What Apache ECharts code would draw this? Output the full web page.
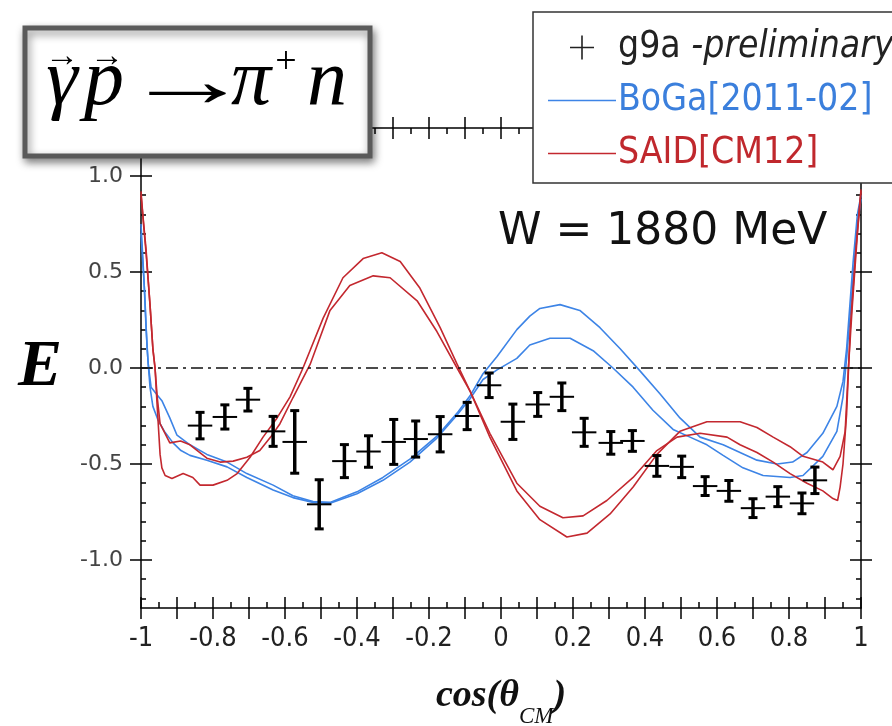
<!DOCTYPE html>
<html>
<head>
<meta charset="utf-8">
<script src="https://cdn.jsdelivr.net/npm/echarts@6/dist/echarts.min.js"></script>
<style>
  html, body { margin: 0; padding: 0; background: #fff; }
  #main { width: 892px; height: 726px; }
</style>
</head>
<body>
<div id="main"></div>
<script>
// g9a preliminary points: bin centre, E, stat. error
const g9aCos = [-0.836, -0.767, -0.703, -0.633, -0.573, -0.505, -0.435, -0.368, -0.298, -0.237,
  -0.169, -0.094, -0.033, 0.033, 0.102, 0.169, 0.231, 0.305, 0.365, 0.433, 0.502, 0.567, 0.633,
  0.700, 0.769, 0.836, 0.872]
const g9aE = [-0.30, -0.255, -0.165, -0.33, -0.385, -0.71, -0.485, -0.435, -0.385, -0.37,
  -0.345, -0.25, -0.09, -0.28, -0.19, -0.15, -0.335, -0.39, -0.38, -0.51, -0.515, -0.615, -0.64,
  -0.73, -0.67, -0.705, -0.585]
const g9aErr = [0.069, 0.063, 0.059, 0.078, 0.163, 0.128, 0.086, 0.082, 0.117, 0.094,
  0.092, 0.071, 0.064, 0.092, 0.062, 0.072, 0.073, 0.059, 0.054, 0.054, 0.056, 0.049, 0.054,
  0.049, 0.052, 0.054, 0.069]
const BIN_HALF = 0.034

// BoGa[2011-02] curves
const boga1 = [[-1.0, 0.75], [-0.992, 0.47], [-0.986, 0.21], [-0.98, 0.02], [-0.972, -0.10],
  [-0.955, -0.14], [-0.942, -0.17], [-0.92, -0.26], [-0.9, -0.35], [-0.864, -0.40], [-0.817, -0.45],
  [-0.761, -0.49], [-0.706, -0.55], [-0.633, -0.61], [-0.578, -0.665], [-0.522, -0.695],
  [-0.475, -0.70], [-0.40, -0.645], [-0.328, -0.57], [-0.253, -0.475], [-0.178, -0.355],
  [-0.122, -0.235], [-0.086, -0.145], [-0.05, -0.03], [-0.011, 0.06], [0.044, 0.2], [0.08, 0.27],
  [0.108, 0.31], [0.164, 0.33], [0.219, 0.30], [0.275, 0.21], [0.331, 0.10], [0.386, -0.015],
  [0.442, -0.135], [0.497, -0.26], [0.553, -0.36], [0.617, -0.40], [0.711, -0.48], [0.767, -0.50],
  [0.81, -0.49], [0.85, -0.44], [0.894, -0.34], [0.933, -0.2], [0.95, -0.07], [0.96, 0.1],
  [0.978, 0.55], [0.99, 0.8], [1.0, 0.9]]
const boga2 = [[-1.0, 0.7], [-0.99, 0.4], [-0.983, 0.1], [-0.975, -0.1], [-0.967, -0.2],
  [-0.953, -0.27], [-0.935, -0.33], [-0.911, -0.39], [-0.889, -0.43], [-0.864, -0.455],
  [-0.817, -0.48], [-0.761, -0.515], [-0.706, -0.57], [-0.633, -0.635], [-0.578, -0.675],
  [-0.522, -0.70], [-0.475, -0.705], [-0.40, -0.655], [-0.328, -0.585], [-0.253, -0.49],
  [-0.178, -0.365], [-0.122, -0.245], [-0.086, -0.16], [-0.05, -0.06], [-0.011, -0.01],
  [0.044, 0.05], [0.08, 0.12], [0.136, 0.155], [0.192, 0.155], [0.256, 0.09], [0.311, 0.0],
  [0.367, -0.10], [0.422, -0.22], [0.478, -0.32], [0.525, -0.36], [0.572, -0.40], [0.617, -0.455],
  [0.672, -0.52], [0.728, -0.56], [0.803, -0.57], [0.839, -0.56], [0.894, -0.46], [0.933, -0.33],
  [0.95, -0.15], [0.96, 0.05], [0.975, 0.4], [0.99, 0.75], [1.0, 0.88]]

// SAID[CM12] curves
const said1 = [[-1.0, 0.92], [-0.993, 0.75], [-0.986, 0.6], [-0.975, 0.33], [-0.967, 0.10],
  [-0.961, 0.0], [-0.955, -0.15], [-0.947, -0.29], [-0.92, -0.39], [-0.89, -0.38], [-0.864, -0.40],
  [-0.817, -0.47], [-0.78, -0.49], [-0.744, -0.485], [-0.706, -0.465], [-0.67, -0.43], [-0.64, -0.36],
  [-0.614, -0.29], [-0.578, -0.155], [-0.53, 0.02], [-0.475, 0.30], [-0.42, 0.43], [-0.355, 0.48],
  [-0.308, 0.47], [-0.233, 0.35], [-0.178, 0.19], [-0.122, 0.0], [-0.086, -0.12], [-0.031, -0.34],
  [0.044, -0.60], [0.108, -0.72], [0.172, -0.78], [0.228, -0.77], [0.294, -0.69], [0.367, -0.57],
  [0.433, -0.43], [0.489, -0.36], [0.553, -0.34], [0.628, -0.36], [0.664, -0.40], [0.711, -0.44],
  [0.756, -0.49], [0.803, -0.55], [0.85, -0.60], [0.894, -0.64], [0.922, -0.68], [0.935, -0.69],
  [0.942, -0.62], [0.95, -0.50], [0.96, -0.24], [0.97, 0.2], [0.985, 0.6], [1.0, 0.93]]
const said2 = [[-1.0, 0.9], [-0.986, 0.62], [-0.975, 0.33], [-0.967, 0.10], [-0.961, 0.0],
  [-0.955, -0.2], [-0.947, -0.45], [-0.942, -0.52], [-0.933, -0.56], [-0.914, -0.575],
  [-0.883, -0.55], [-0.856, -0.57], [-0.836, -0.61], [-0.8, -0.61], [-0.761, -0.585],
  [-0.733, -0.55], [-0.697, -0.465], [-0.661, -0.36], [-0.622, -0.26], [-0.586, -0.15],
  [-0.55, 0.0], [-0.494, 0.26], [-0.439, 0.47], [-0.383, 0.57], [-0.331, 0.60], [-0.28, 0.555],
  [-0.225, 0.415], [-0.169, 0.21], [-0.122, 0.02], [-0.086, -0.12], [-0.031, -0.36], [0.044, -0.64],
  [0.108, -0.79], [0.183, -0.88], [0.239, -0.86], [0.303, -0.76], [0.367, -0.62], [0.433, -0.45],
  [0.497, -0.33], [0.572, -0.28], [0.664, -0.28], [0.711, -0.31], [0.756, -0.36], [0.803, -0.41],
  [0.839, -0.46], [0.894, -0.49], [0.922, -0.53], [0.942, -0.46], [0.956, -0.33], [0.965, 0.0],
  [0.975, 0.3], [0.99, 0.7], [1.0, 0.92]]

// axes
const xLabelValues = [-1, -0.8, -0.6, -0.4, -0.2, 0, 0.2, 0.4, 0.6, 0.8, 1]
const yMajorValues = [-1, -0.5, 0, 0.5, 1]
const yMinorValues = [-1.2, -1.1, -0.9, -0.8, -0.7, -0.6, -0.4, -0.3, -0.2, -0.1,
  0.1, 0.2, 0.3, 0.4, 0.6, 0.7, 0.8, 0.9, 1.1, 1.2]

const BLUE = '#3d84e6'
const RED = '#c3282f'
const TICK = { color: '#000', width: 1.5 }
const LABEL_FONT = '"DejaVu Sans Condensed", "DejaVu Sans", sans-serif'
const LINE_ICON = 'path://M0,0h68v1.6h-68z'

function renderPoint(params, api) {
  const x = api.value(0)
  const y = api.value(1)
  const e = api.value(2)
  const c = api.coord([x, y])
  const hi = api.coord([x, y + e])
  const lo = api.coord([x, y - e])
  const l = api.coord([x - BIN_HALF, y])
  const r = api.coord([x + BIN_HALF, y])
  const s = { stroke: '#000', lineWidth: 2 }
  return {
    type: 'group',
    children: [
      { type: 'line', shape: { x1: l[0], y1: c[1], x2: r[0], y2: c[1] }, style: s },
      { type: 'line', shape: { x1: c[0], y1: hi[1], x2: c[0], y2: lo[1] }, style: { stroke: '#000', lineWidth: 3.5 } },
      { type: 'line', shape: { x1: c[0] - 4.5, y1: hi[1], x2: c[0] + 4.5, y2: hi[1] }, style: { stroke: '#000', lineWidth: 3 } },
      { type: 'line', shape: { x1: c[0] - 4.5, y1: lo[1], x2: c[0] + 4.5, y2: lo[1] }, style: { stroke: '#000', lineWidth: 3 } },
    ],
  }
}

function xAxisFor(position, inside, main) {
  return {
    type: 'value',
    position,
    min: -1,
    max: 1,
    interval: 0.1,
    splitLine: { show: false },
    axisLine: { show: inside, onZero: false, lineStyle: { color: '#000', width: 1.5 } },
    axisTick: { inside, length: 11, lineStyle: TICK },
    minorTick: { show: inside, splitNumber: 2, length: 6, lineStyle: TICK },
    axisLabel: main
      ? {
          customValues: xLabelValues,
          margin: 17,
          color: '#222',
          fontFamily: LABEL_FONT,
          fontSize: 27,
          formatter: (v) => String(v),
        }
      : { show: false },
  }
}

function yAxisFor(position, kind) {
  const ax = {
    type: 'value',
    position,
    min: -1.25,
    max: 1.25,
    splitLine: { show: false },
    axisLine: { show: kind === 'in', onZero: false, lineStyle: { color: '#000', width: 1.5 } },
    axisTick: {
      customValues: kind === 'minor' ? yMinorValues : yMajorValues,
      inside: kind !== 'out',
      length: kind === 'minor' ? 5 : 11,
      lineStyle: TICK,
    },
    axisLabel: { show: false },
  }
  if (position === 'left' && kind === 'in') {
    ax.axisLabel = {
      customValues: yMajorValues,
      margin: 18,
      color: '#444',
      fontFamily: '"DejaVu Sans", sans-serif',
      fontSize: 22,
      formatter: (v) => v.toFixed(1),
    }
    ax.name = 'E'
    ax.nameLocation = 'middle'
    ax.nameRotate = 0
    ax.nameGap = 79
    ax.nameTextStyle = {
      fontFamily: '"Liberation Serif", serif',
      fontStyle: 'italic',
      fontWeight: 'bold',
      fontSize: 66,
      color: '#000',
    }
  }
  return ax
}

function curve(name, data, color) {
  return {
    name,
    type: 'line',
    data,
    symbol: 'none',
    smooth: false,
    color,
    lineStyle: { color, width: 1.6 },
    z: 3,
  }
}

function titleGlyph(text, x, y, font, extra) {
  return Object.assign({
    type: 'text',
    z: 101,
    x,
    y,
    style: { text, font, fill: '#000', align: 'center', verticalAlign: 'middle' },
  }, extra || {})
}

function main() {
  const chart = echarts.init(document.getElementById('main'))
  const pointData = g9aCos.map((c, i) => [c, g9aE[i], g9aErr[i]])

  const xMain = xAxisFor('bottom', true, true)
  xMain.name = '{a|cos(θ}{s|CM}{a|)}'
  xMain.nameLocation = 'middle'
  xMain.nameGap = 57
  xMain.nameTextStyle = {
    rich: {
      a: { fontFamily: '"Liberation Serif", serif', fontStyle: 'italic', fontWeight: 'bold', fontSize: 38, color: '#111' },
      s: { fontFamily: '"Liberation Serif", serif', fontStyle: 'italic', fontSize: 23, color: '#111', padding: [40, 0, 0, 0] },
    },
  }

  const serif = '"Liberation Serif", serif'

  chart.setOption({
    animation: false,
    backgroundColor: '#fff',
    grid: { left: 141, right: 31, top: 128, bottom: 118, outerBoundsMode: 'none', containLabel: false },
    xAxis: [
      xMain,
      xAxisFor('bottom', false, false),
      xAxisFor('top', true, false),
      xAxisFor('top', false, false),
    ],
    yAxis: [
      yAxisFor('left', 'in'),
      yAxisFor('left', 'out'),
      yAxisFor('left', 'minor'),
      yAxisFor('right', 'in'),
      yAxisFor('right', 'out'),
      yAxisFor('right', 'minor'),
    ],
    legend: {
      orient: 'vertical',
      left: 533,
      top: 12,
      padding: [17, 30, 11, 15],
      itemGap: 16,
      itemWidth: 68,
      itemHeight: 24,
      backgroundColor: '#fff',
      borderColor: '#333',
      borderWidth: 1.5,
      borderRadius: 0,
      z: 20,
      textStyle: { fontFamily: LABEL_FONT, fontSize: 37, padding: [0, 0, 0, -3] },
      formatter: (name) => (name === 'g9a' ? '{n|g9a }{i|-preliminary}' : name),
      data: [
        {
          name: 'g9a',
          icon: 'path://M11.2,0h1.6v11.2h11.2v1.6h-11.2v11.2h-1.6v-11.2h-11.2v-1.6h11.2z',
          itemStyle: { color: '#222' },
          textStyle: {
            color: '#222',
            rich: {
              n: { fontFamily: LABEL_FONT, fontSize: 37, color: '#222' },
              i: { fontFamily: LABEL_FONT, fontSize: 37, fontStyle: 'italic', color: '#222' },
            },
          },
        },
        { name: 'BoGa[2011-02]', icon: LINE_ICON, itemStyle: { color: BLUE }, textStyle: { color: '#3b7fdc' } },
        { name: 'SAID[CM12]', icon: LINE_ICON, itemStyle: { color: RED }, textStyle: { color: '#c0282d' } },
      ],
    },
    graphic: [
      {
        type: 'rect',
        z: 100,
        shape: { x: 25, y: 28, width: 345, height: 128 },
        style: {
          fill: '#fff', stroke: '#5a5a5a', lineWidth: 5,
          shadowBlur: 8, shadowOffsetX: 2, shadowOffsetY: 4, shadowColor: 'rgba(0,0,0,0.45)',
        },
      },
      titleGlyph('γ', 62, 83, 'italic 80px ' + serif),
      titleGlyph('→', 62, 57, '34px ' + serif),
      titleGlyph('p', 104, 83, 'italic 80px ' + serif),
      titleGlyph('→', 107, 57, '34px ' + serif),
      titleGlyph('→', 187, 86, '76px ' + serif, { scaleX: 1.7 }),
      titleGlyph('π', 251, 83, 'italic 80px ' + serif),
      titleGlyph('+', 286, 63, '38px ' + serif),
      titleGlyph('n', 327, 83, 'italic 80px ' + serif),
      {
        type: 'text', z: 30, x: 498, y: 233,
        style: { text: 'W = 1880 MeV', font: '44px "DejaVu Sans"', fill: '#111', align: 'left', verticalAlign: 'middle' },
      },
    ],
    series: [
      curve('BoGa[2011-02]', boga1, BLUE),
      curve('BoGa[2011-02]', boga2, BLUE),
      curve('SAID[CM12]', said1, RED),
      curve('SAID[CM12]', said2, RED),
      {
        name: 'g9a',
        type: 'custom',
        renderItem: renderPoint,
        data: pointData,
        itemStyle: { color: '#222' },
        encode: { x: 0, y: 1 },
        z: 5,
        markLine: {
          silent: true,
          symbol: ['none', 'none'],
          label: { show: false },
          lineStyle: { color: '#111', width: 1.6, type: [12, 5, 3, 5] },
          data: [{ yAxis: 0 }],
        },
      },
    ],
  })
}

window.onload = main
</script>
</body>
</html>
